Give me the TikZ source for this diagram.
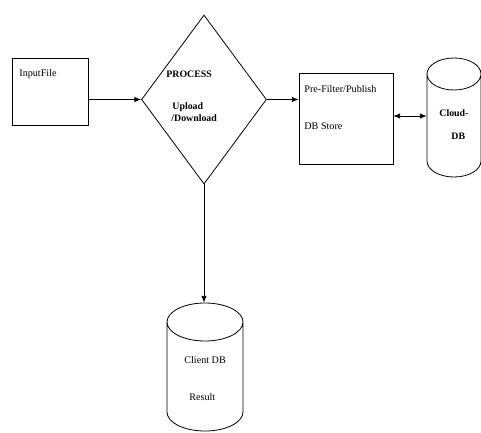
\documentclass[tikz,border=0pt]{standalone}
\usepackage{fontspec}
\setmainfont{Liberation Serif}
\usetikzlibrary{shapes.geometric,arrows.meta}
\begin{document}
\begin{tikzpicture}[x=0.75pt,y=-0.75pt,
  line width=0.6pt,
  txt/.style={font=\fontsize{7.6}{9}\selectfont,inner sep=0pt,anchor=west},
  btxt/.style={txt,font=\fontsize{7.4}{9}\selectfont\bfseries},
  arr/.style={-{Latex[length=5pt,width=4pt]}},
  darr/.style={{Latex[length=5pt,width=4pt]}-{Latex[length=5pt,width=4pt]}}]
\useasboundingbox (0,0) rectangle (481,432);
% Input File box
\node[draw,minimum width=57pt,minimum height=50.25pt,inner sep=0pt] (in) at (50,91.5) {};
\node[txt] (intxt) at (19,74) {InputFile};
% diamond
\node[draw,diamond,minimum width=93.75pt,minimum height=126.75pt,inner sep=0pt] (proc) at (204,99.5) {};
\node[btxt] (p1) at (166,74) {PROCESS};
\node[btxt] (p2) at (172,107) {Upload};
\node[btxt] (p3) at (171,118) {/Download};
% Pre-filter box
\node[draw,minimum width=70.5pt,minimum height=68.25pt,inner sep=0pt] (pf) at (346,118.5) {};
\node[txt] (pf1) at (304,89) {Pre-Filter/Publish};
\node[txt] (pf2) at (304,126) {DB Store};
% Cloud DB cylinder
\draw (427,74) arc[start angle=180,end angle=-180,x radius=27,y radius=16]
      (427,74) -- (427,161) arc[start angle=180,end angle=0,x radius=27,y radius=16] -- (481,74);
\node[minimum width=40.5pt,minimum height=89pt,inner sep=0pt] (cloud) at (454,117.5) {};
\node[btxt] (c1) at (439,113) {Cloud-};
\node[btxt] (c2) at (451,136) {DB};
% Client DB cylinder
\draw (167,322) arc[start angle=180,end angle=-180,x radius=38,y radius=19]
      (167,322) -- (167,412) arc[start angle=180,end angle=0,x radius=38,y radius=19] -- (243,322);
\node[minimum width=57pt,minimum height=96pt,inner sep=0pt] (client) at (205,367) {};
\node[txt] (cl1) at (184,360) {Client DB};
\node[txt] (cl2) at (189,397) {Result};
% connectors
\draw[arr] (in.east |- proc.west) -- (proc.west);
\draw[arr] (proc.east) -- (pf.west |- proc.east);
\draw[darr] (pf.east |- 0,116) -- (cloud.west |- 0,116);
\draw[arr] (proc.south) -- (client.north -| proc.south);
\end{tikzpicture}
\end{document}
